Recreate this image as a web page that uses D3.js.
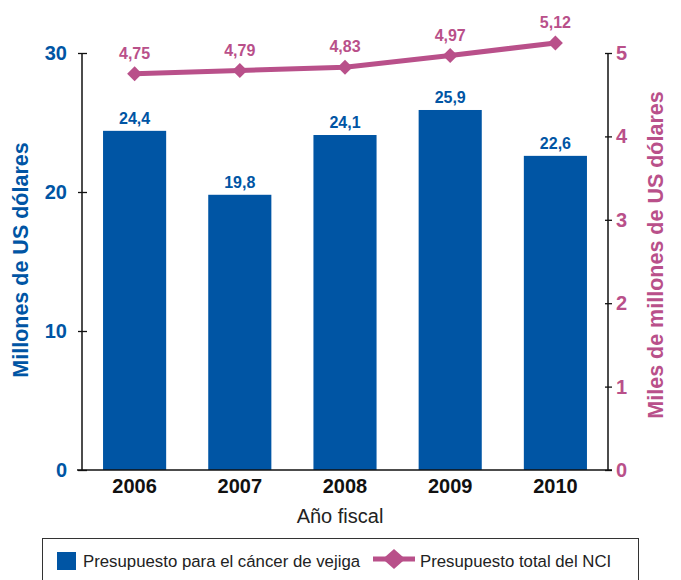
<!DOCTYPE html>
<html>
<head>
<meta charset="utf-8">
<script src="https://cdn.jsdelivr.net/npm/d3@7"></script>
<style>
  html, body { margin: 0; padding: 0; background: #fff; }
  svg { display: block; font-family: "Liberation Sans", Arial, Helvetica, sans-serif; }
</style>
</head>
<body>
<svg id="chart" width="681" height="580"></svg>
<script>
const years = ["2006", "2007", "2008", "2009", "2010"];
const bladderBudget = [24.4, 19.8, 24.1, 25.9, 22.6];
const nciTotal = [4.75, 4.79, 4.83, 4.97, 5.12];
const leftTicks = [0, 10, 20, 30];
const rightTicks = [0, 1, 2, 3, 4, 5];

const blue = "#0055a4";
const pink = "#b9508a";

const svg = d3.select("#chart");
const pLeft = 82, pRight = 608, pTop = 53, pBottom = 470;

const xc = d3.scaleBand().domain(years).range([pLeft, pRight]).padding(0);
const yL = d3.scaleLinear().domain([0, 30]).range([pBottom, pTop]);
const yR = d3.scaleLinear().domain([0, 5]).range([pBottom, pTop]);
const cx = y => xc(y) + xc.bandwidth() / 2;

// bars
const bw = xc.bandwidth() * 0.6;
svg.append("g").selectAll("rect").data(bladderBudget).join("rect")
  .attr("x", (d, i) => cx(years[i]) - bw / 2)
  .attr("width", bw)
  .attr("y", d => yL(d))
  .attr("height", d => yL(0) - yL(d))
  .attr("fill", blue);

svg.append("g").selectAll("text").data(bladderBudget).join("text")
  .attr("x", (d, i) => cx(years[i]))
  .attr("y", d => yL(d) - 7)
  .attr("text-anchor", "middle")
  .attr("font-size", 16).attr("font-weight", "bold").attr("fill", blue)
  .text(d => d.toFixed(1).replace(".", ","));

// left axis
const axL = svg.append("g").attr("transform", `translate(${pLeft},0)`)
  .call(d3.axisLeft(yL).tickValues(leftTicks).tickSize(4).tickFormat(d3.format("d")));
axL.select(".domain").attr("stroke", "#111").attr("stroke-width", 1.5).attr("d", `M0,${pTop}V${pBottom}`);
axL.selectAll(".tick line").attr("x1", 5).attr("x2", -4).attr("stroke", "#111").attr("stroke-width", 1.3);
axL.selectAll(".tick text").attr("x", -15).attr("font-size", 20).attr("font-weight", "bold")
  .attr("fill", blue).attr("font-family", "Liberation Sans, Arial, sans-serif");

// right axis
const axR = svg.append("g").attr("transform", `translate(${pRight},0)`)
  .call(d3.axisRight(yR).tickValues(rightTicks).tickSize(4).tickFormat(d3.format("d")));
axR.select(".domain").attr("stroke", "#111").attr("stroke-width", 1.5).attr("d", `M0,${pTop}V${pBottom}`);
axR.selectAll(".tick line").attr("x1", -3).attr("x2", 4).attr("stroke", "#111").attr("stroke-width", 1.3);
axR.selectAll(".tick text").attr("x", 8).attr("font-size", 20).attr("font-weight", "bold")
  .attr("fill", pink).attr("font-family", "Liberation Sans, Arial, sans-serif");

// x axis
const axX = svg.append("g").attr("transform", `translate(0,${pBottom})`)
  .call(d3.axisBottom(xc).tickSize(0).tickPadding(9));
axX.select(".domain").attr("stroke", "#111").attr("stroke-width", 1.5).attr("d", `M${pLeft - 5},0H${pRight + 4}`);
axX.selectAll(".tick text").attr("font-size", 20).attr("font-weight", "bold")
  .attr("fill", "#111").attr("font-family", "Liberation Sans, Arial, sans-serif");

// line
const lineGen = d3.line().x((d, i) => cx(years[i])).y(d => yR(d));
svg.append("path").datum(nciTotal).attr("d", lineGen)
  .attr("fill", "none").attr("stroke", pink).attr("stroke-width", 5);
const diamond = d3.symbol().type(d3.symbolSquare).size(112);
svg.append("g").selectAll("path").data(nciTotal).join("path")
  .attr("d", diamond)
  .attr("transform", (d, i) => `translate(${cx(years[i])},${yR(d)}) rotate(45)`)
  .attr("fill", pink);
svg.append("g").selectAll("text").data(nciTotal).join("text")
  .attr("x", (d, i) => cx(years[i]))
  .attr("y", d => yR(d) - 15)
  .attr("text-anchor", "middle")
  .attr("font-size", 16).attr("font-weight", "bold").attr("fill", pink)
  .text(d => d.toFixed(2).replace(".", ","));

// axis titles
svg.append("text")
  .attr("transform", `translate(28,260) rotate(-90)`)
  .attr("text-anchor", "middle")
  .attr("font-size", 21.5).attr("font-weight", "bold").attr("fill", blue)
  .text("Millones de US dólares");
svg.append("text")
  .attr("transform", `translate(663,255) rotate(-90)`)
  .attr("text-anchor", "middle")
  .attr("font-size", 21.5).attr("font-weight", "bold").attr("fill", pink)
  .text("Miles de millones de US dólares");
svg.append("text")
  .attr("x", 340).attr("y", 523)
  .attr("text-anchor", "middle")
  .attr("font-size", 20).attr("fill", "#222")
  .text("Año fiscal");

// legend
svg.append("rect").attr("x", 42.5).attr("y", 538.5).attr("width", 596).attr("height", 60)
  .attr("fill", "none").attr("stroke", "#333").attr("stroke-width", 1);
svg.append("rect").attr("x", 57).attr("y", 552).attr("width", 19).attr("height", 18).attr("fill", blue);
svg.append("text").attr("x", 83).attr("y", 567).attr("font-size", 16.8).attr("fill", "#222")
  .text("Presupuesto para el cáncer de vejiga");
svg.append("line").attr("x1", 373).attr("x2", 415).attr("y1", 559).attr("y2", 559)
  .attr("stroke", pink).attr("stroke-width", 5);
svg.append("path").attr("d", diamond).attr("transform", "translate(394,559) scale(1.5,1.35) rotate(45)").attr("fill", pink);
svg.append("text").attr("x", 420).attr("y", 567).attr("font-size", 16.8).attr("fill", "#222")
  .text("Presupuesto total del NCI");
</script>
</body>
</html>
